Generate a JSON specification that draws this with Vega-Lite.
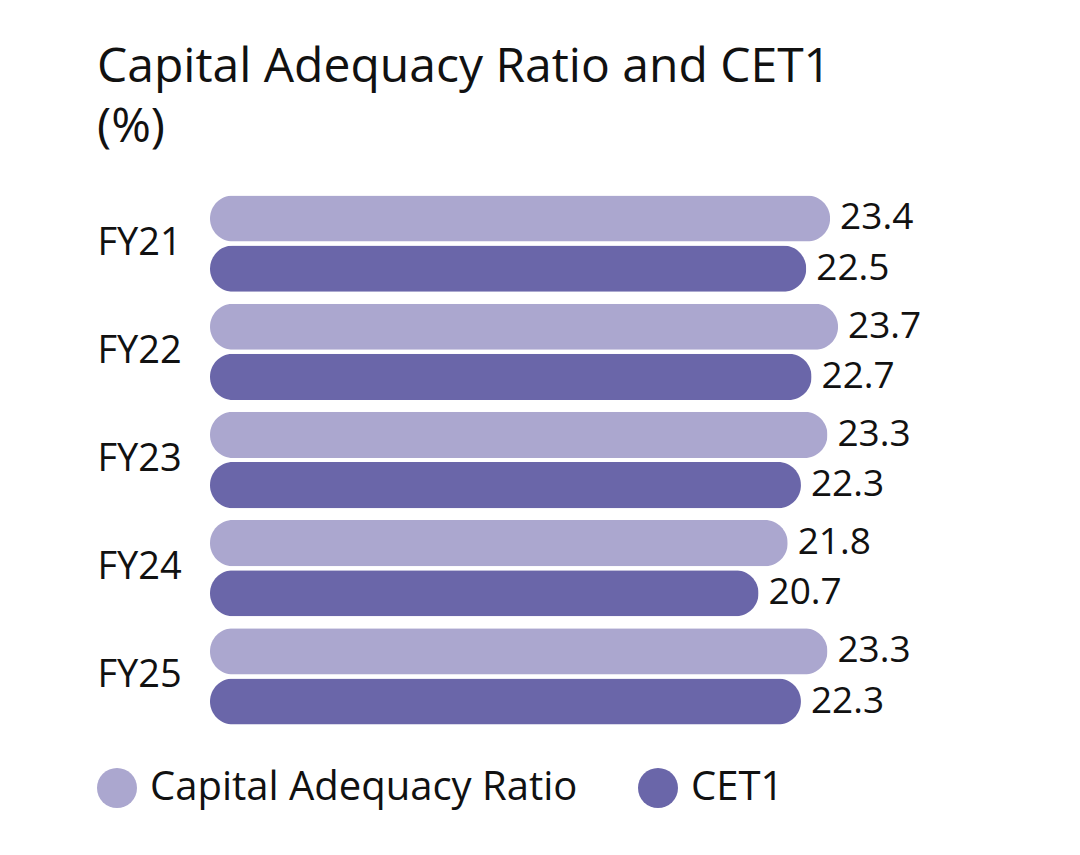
{
  "$schema": "https://vega.github.io/schema/vega-lite/v6.json",
  "width": 742,
  "height": 540,
  "autosize": {"type": "none"},
  "padding": {"left": 210, "top": 190, "right": 128, "bottom": 125},
  "background": "white",
  "config": {"view": {"stroke": null}, "font": "Open Sans"},
  "title": {
    "text": ["Capital Adequacy Ratio and CET1", "(%)"],
    "anchor": "start",
    "frame": "bounds",
    "fontSize": 48,
    "fontWeight": "normal",
    "color": "#111111",
    "lineHeight": 60,
    "offset": 38
  },
  "data": {
    "values": [
      {"year": "FY21", "series": "Capital Adequacy Ratio", "value": 23.4},
      {"year": "FY21", "series": "CET1", "value": 22.5},
      {"year": "FY22", "series": "Capital Adequacy Ratio", "value": 23.7},
      {"year": "FY22", "series": "CET1", "value": 22.7},
      {"year": "FY23", "series": "Capital Adequacy Ratio", "value": 23.3},
      {"year": "FY23", "series": "CET1", "value": 22.3},
      {"year": "FY24", "series": "Capital Adequacy Ratio", "value": 21.8},
      {"year": "FY24", "series": "CET1", "value": 20.7},
      {"year": "FY25", "series": "Capital Adequacy Ratio", "value": 23.3},
      {"year": "FY25", "series": "CET1", "value": 22.3}
    ]
  },
  "encoding": {
    "y": {
      "field": "year",
      "type": "nominal",
      "sort": ["FY21", "FY22", "FY23", "FY24", "FY25"],
      "scale": {"paddingInner": 0.11, "paddingOuter": 0.05},
      "axis": {
        "title": null,
        "domain": false,
        "ticks": false,
        "labelAlign": "left",
        "labelPadding": 113,
        "labelFontSize": 38,
        "labelColor": "#111111",
        "labelFont": "Open Sans"
      }
    },
    "yOffset": {
      "field": "series",
      "type": "nominal",
      "sort": ["Capital Adequacy Ratio", "CET1"],
      "scale": {"paddingInner": 0.08}
    },
    "x": {
      "field": "value",
      "type": "quantitative",
      "scale": {"domain": [0, 28]},
      "axis": null
    }
  },
  "layer": [
    {
      "mark": {"type": "bar", "cornerRadius": 23},
      "encoding": {
        "color": {
          "field": "series",
          "type": "nominal",
          "scale": {
            "domain": ["Capital Adequacy Ratio", "CET1"],
            "range": ["#aba7cf", "#6a66a9"]
          },
          "legend": {
            "title": null,
            "orient": "none",
            "legendX": -113,
            "legendY": 578,
            "direction": "horizontal",
            "symbolType": "circle",
            "symbolSize": 1600,
            "symbolStrokeWidth": 0,
            "symbolOpacity": 1,
            "labelFontSize": 40,
            "labelColor": "#111111",
            "labelOffset": 13,
            "columnPadding": 60,
            "labelLimit": 600
          }
        }
      }
    },
    {
      "mark": {
        "type": "text",
        "align": "left",
        "baseline": "middle",
        "dx": 10,
        "fontSize": 37,
        "color": "#111111"
      },
      "encoding": {
        "text": {"field": "value", "type": "quantitative", "format": ".1f"}
      }
    }
  ]
}
